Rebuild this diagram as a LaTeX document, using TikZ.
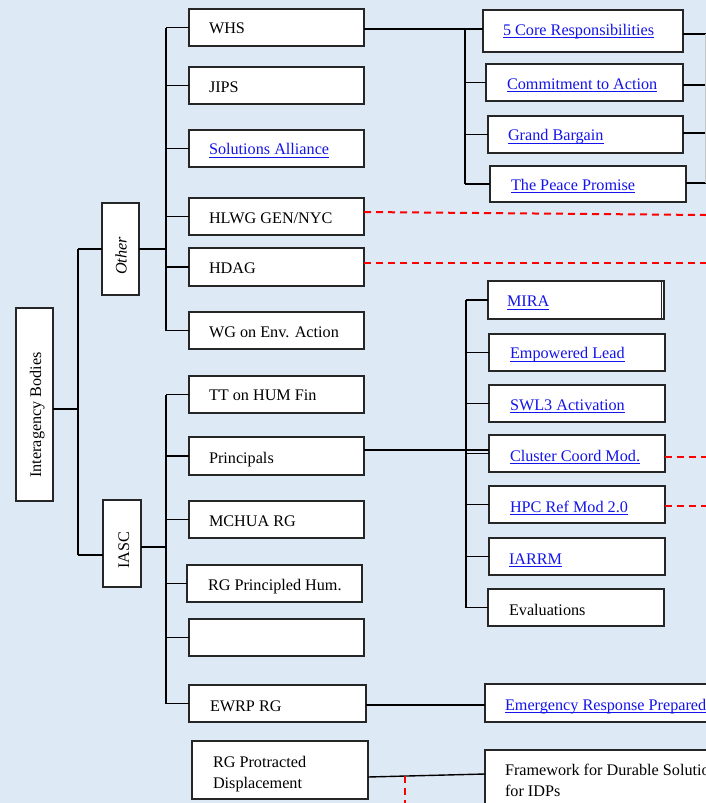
\documentclass[tikz,border=0pt]{standalone}
\usepackage{fontspec}
\setmainfont{Liberation Serif}
\definecolor{bg}{RGB}{222,233,246}
\definecolor{linkblue}{RGB}{20,20,235}
\newcommand\lnk[1]{\textcolor{linkblue}{\setbox0\hbox{#1}\rlap{\rule[-3.1pt]{\wd0}{1.1pt}}\box0}}
\newcommand\bx[5]{\pgfmathsetmacro\bw{#4-#2}\pgfmathsetmacro\bh{#5-#3}\node[box, minimum width=\bw pt, minimum height=\bh pt, anchor=north west] (#1) at (#2,#3) {};}
\newcommand\tx[4]{\node[txt, anchor=base west] (#1) at (#2,#3) {#4};}
\begin{document}
\begin{tikzpicture}[x=1pt,y=-1pt,
  box/.style={draw=black!85,line width=1.3pt,fill=white,inner sep=0pt,outer sep=0pt},
  txt/.style={inner sep=0pt,outer sep=0pt,font=\fontsize{16.2}{19}\selectfont,text=black},
  conn/.style={line width=1.9pt,black},
  thinconn/.style={line width=1.4pt,black},
  reddash/.style={line width=2pt,red,dash pattern=on 7pt off 5pt}]
\useasboundingbox (0,0) rectangle (706,803);
\fill[bg] (0,0) rectangle (706,803);
\clip (0,0) rectangle (706,803);
% boxes
\bx{WHS}{189}{9}{364}{46}
\bx{JIPS}{189}{67}{364}{104}
\bx{SA}{189}{130}{364}{167}
\bx{HLWG}{189}{198}{364}{235}
\bx{HDAG}{189}{248}{364}{286}
\bx{WG}{189}{312}{364}{349}
\bx{TT}{189}{376}{364}{413}
\bx{Prin}{189}{437}{364}{475}
\bx{MCHUA}{189}{501}{364}{538}
\bx{RGPH}{187}{565}{362}{602}
\bx{Empty}{189}{619}{364}{656}
\bx{EWRP}{189}{685}{366}{722}
\bx{RGPD}{192}{741}{368}{799}
\bx{IB}{16}{308}{53}{501}
\bx{Other}{102}{203}{139}{295}
\bx{IASC}{103}{500}{141}{587}
\bx{core5}{483}{10}{683}{52}
\bx{CtA}{486}{64}{683}{101}
\bx{GB}{488}{116}{683}{153}
\bx{PP}{490}{166}{686}{202}
\bx{MIRA}{488}{281}{664}{319}
\bx{EL}{489}{334}{665}{371}
\bx{SWL3}{489}{385}{665}{422}
\bx{CCM}{489}{435}{665}{472}
\bx{HPC}{489}{486}{665}{523}
\bx{IARRM}{489}{538}{665}{575}
\bx{Eval}{488}{589}{664}{626}
\bx{ERP}{485}{684}{820}{722}
\bx{FDS}{485}{750}{820}{830}
\draw[black!85,line width=1pt] ([xshift=-2.2pt]MIRA.north east) -- ([xshift=-2.2pt]MIRA.south east);
% coordinates for trunks
\coordinate (ot) at (166,0);
\coordinate (ib) at (78,0);
\coordinate (wt) at (465,0);
\coordinate (pt) at (466,0);
\coordinate (re) at (706,0);
\coordinate (rg) at (705.3,0);
% left trunk (Other)
\draw[conn] (WHS.west -| ot) -- (WG.west -| ot);
\foreach \n in {WHS,JIPS,SA,HLWG,HDAG,WG} {\draw[conn] (\n.west) -- (\n.west -| ot);}
\draw[conn] (Other.east) -- (Other.east -| ot);
% IASC trunk
\draw[conn] (TT.west -| ot) -- (EWRP.west -| ot);
\foreach \n in {TT,Prin,MCHUA,RGPH,Empty,EWRP} {\draw[conn] (\n.west) -- (\n.west -| ot);}
\draw[conn] (IASC.east |- 0,547) -- (ot |- 0,547);
% Interagency trunk
\draw[conn] (IB.east |- 0,409) -- (ib |- 0,409);
\draw[conn] (Other.west -| ib) -- (ib |- 0,555);
\draw[conn] (Other.west) -- (Other.west -| ib);
\draw[conn] (IASC.west |- 0,555) -- (ib |- 0,555);
% WHS group
\draw[conn] (WHS.east |- 0,29) -- (core5.west |- 0,29);
\draw[conn] (wt |- 0,30) -- (PP.west -| wt);
\foreach \n in {CtA,GB,PP} {\draw[conn] (\n.west) -- (\n.west -| wt);}
\draw[conn] (core5.east |- 0,34) -- (re |- 0,34);
\draw[conn] (CtA.east |- 0,85) -- (re |- 0,85);
\draw[conn] (GB.east |- 0,133) -- (re |- 0,133);
\draw[conn] (PP.east |- 0,183) -- (re |- 0,183);
\draw[gray!45,line width=1pt] (rg |- 0,34) -- (rg |- 0,183);
% Principals group
\draw[conn] (MIRA.west -| pt) -- (Eval.west -| pt);
\foreach \n in {MIRA,EL,SWL3,CCM,HPC,IARRM,Eval} {\draw[conn] (\n.west) -- (\n.west -| pt);}
\draw[thinconn] (Prin.east |- 0,450) -- (CCM.west |- 0,450);
% EWRP and RGPD
\draw[thinconn] (EWRP.east |- 0,705) -- (ERP.west |- 0,705);
\draw[thinconn] (RGPD.east |- 0,777) -- (FDS.west |- 0,774);
% red dashed
\draw[reddash] (HLWG.east |- 0,212) -- (re |- 0,215);
\draw[reddash] (HDAG.east |- 0,263) -- (re |- 0,263);
\draw[reddash] (CCM.east |- 0,457) -- (re |- 0,457);
\draw[reddash] (HPC.east |- 0,506) -- (re |- 0,506);
\coordinate (dvt) at (405,776);
\coordinate (dvb) at (405,812);
\draw[reddash] (dvt) -- (dvb);
% texts
\tx{tWHS}{209}{33}{WHS}
\tx{tJIPS}{209}{92}{JIPS}
\tx{tSA}{209}{154.5}{\lnk{Solutions Alliance}}
\tx{tHLWG}{209}{223.3}{HLWG GEN/NYC}
\tx{tHDAG}{209}{273}{HDAG}
\tx{tWG}{209}{337.3}{WG on Env. Action}
\tx{tTT}{209}{400.7}{TT on HUM Fin}
\tx{tPrin}{209}{463.3}{Principals}
\tx{tMCHUA}{209}{526}{MCHUA RG}
\tx{tRGPH}{208}{590}{RG Principled Hum.}
\tx{tEWRP}{210}{711}{EWRP RG}
\tx{tRGPD}{213}{767}{\vtop{\baselineskip=21.3pt\hbox{RG Protracted}\hbox{Displacement}}}
\tx{tcore5}{503}{35.3}{\lnk{5 Core Responsibilities}}
\tx{tCtA}{507}{89.3}{\lnk{Commitment to Action}}
\tx{tGB}{508}{140.7}{\lnk{Grand Bargain}}
\tx{tPP}{511}{190.3}{\lnk{The Peace Promise}}
\tx{tMIRA}{507}{306.7}{\lnk{MIRA}}
\tx{tEL}{510}{358.7}{\lnk{Empowered Lead}}
\tx{tSWL3}{510}{410}{\lnk{SWL3 Activation}}
\tx{tCCM}{510}{461}{\lnk{Cluster Coord Mod.}}
\tx{tHPC}{510}{512}{\lnk{HPC Ref Mod 2.0}}
\tx{tIARRM}{509}{564}{\lnk{IARRM}}
\tx{tEval}{509}{615.3}{Evaluations}
\tx{tERP}{505}{710.3}{\lnk{Emergency Response Preparedness}}
\tx{tFDS}{505}{775}{\vtop{\baselineskip=21.7pt\hbox{Framework for Durable Solutions}\hbox{for IDPs}}}
\node[txt,rotate=90,anchor=base] (tIB) at (41,415) {Interagency Bodies};
\node[txt,rotate=90,anchor=base] (tOther) at (126.5,256) {\itshape Other};
\node[txt,rotate=90,anchor=base] (tIASC) at (129,550) {IASC};
\end{tikzpicture}
\end{document}
